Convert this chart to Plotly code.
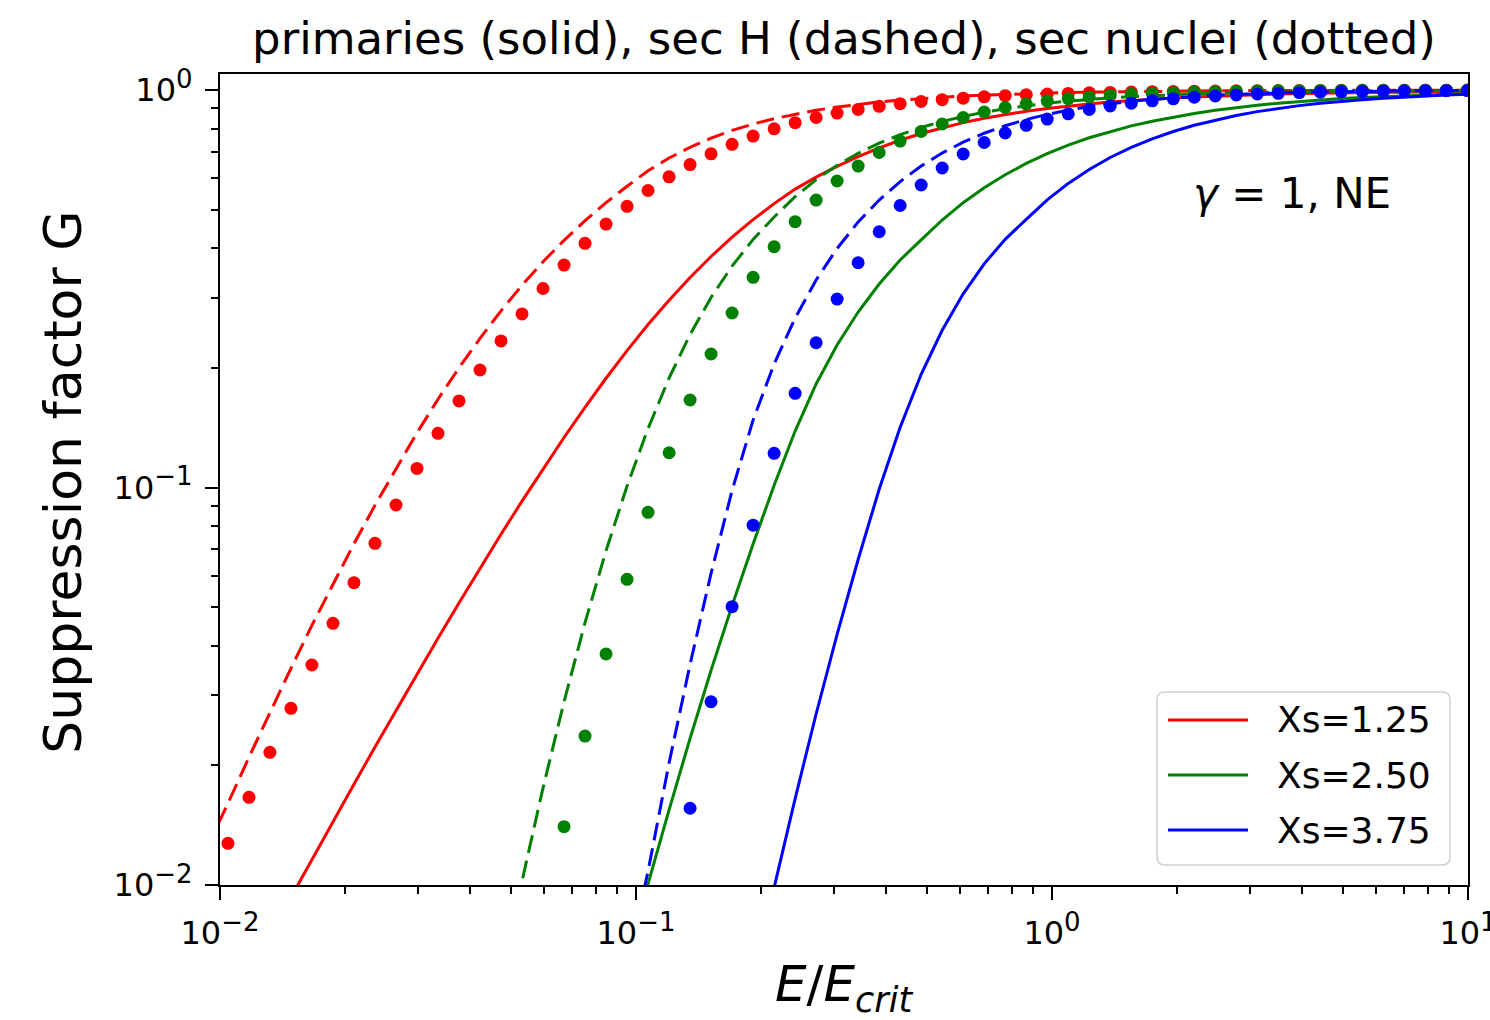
import plotly.graph_objects as go

# Energy grid E/E_crit (log-spaced samples)
E = [0.0093, 0.01045, 0.01174, 0.01318, 0.01481, 0.01663, 0.01869, 0.02099, 0.02358, 0.02649,
     0.02975, 0.03342, 0.03754, 0.04217, 0.04737, 0.05321, 0.05977, 0.06714, 0.07542, 0.08472,
     0.09517, 0.1069, 0.1201, 0.1349, 0.1515, 0.1702, 0.1912, 0.2148, 0.2413, 0.2710,
     0.3044, 0.3420, 0.3842, 0.4315, 0.4847, 0.5445, 0.6116, 0.6871, 0.7718, 0.8670,
     0.9739, 1.094, 1.229, 1.380, 1.551, 1.742, 1.957, 2.198, 2.469, 2.773,
     3.115, 3.499, 3.931, 4.416, 4.960, 5.572, 6.259, 7.031, 7.898, 8.872, 9.966]

xs_values = [1.25, 2.50, 3.75]
colors = ["#ff0000", "#008000", "#0000ff"]

# Xs = 1.25
prim_125 = [None, None, None, None,
            0.00931, 0.01161, 0.01443, 0.01793, 0.02223, 0.02749, 0.03393, 0.04174, 0.05122, 0.06259,
            0.07626, 0.09243, 0.1114, 0.1336, 0.1591, 0.1883, 0.2210, 0.2570, 0.2959, 0.3375,
            0.3813, 0.4263, 0.4720, 0.5179,
            0.5632, 0.6037, 0.6427, 0.6799, 0.7150, 0.7476, 0.7774, 0.8038, 0.8279, 0.8494,
            0.8682, 0.8844, 0.8989, 0.9115, 0.9226, 0.9324, 0.9410, 0.9482, 0.9547, 0.9603,
            0.9653, 0.9698, 0.9737, 0.9770, 0.9799, 0.9822, 0.9845, 0.9868, 0.9885, 0.9896,
            0.9908, 0.9919, 0.9931]
secH_125 = [0.01243,
            0.01605, 0.02096, 0.02720, 0.03509, 0.04499, 0.05723, 0.07217, 0.09020, 0.1117, 0.1373,
            0.1667, 0.2000, 0.2373, 0.2783, 0.3227, 0.3697, 0.4186, 0.4692, 0.5207, 0.5728,
            0.6262, 0.6744, 0.7178, 0.7568, 0.7913, 0.8213, 0.8472, 0.8701, 0.8896, 0.9063,
            0.9205, 0.9328, 0.9432, 0.9520, 0.9592, 0.9659, 0.9709, 0.9754, 0.9794, 0.9828,
            0.9856, 0.9879, 0.9896, 0.9913, 0.9925, 0.9936, 0.9948, 0.9957, 0.9964, 0.9969,
            0.9974, 0.9978, 0.9981, 0.9984, 0.9987, 0.9989, 0.9991, 0.9992, 0.9994, 0.9995]
secN_125 = [None,
            0.01273, 0.01662, 0.02157, 0.02782, 0.03577, 0.04553, 0.05761, 0.07238, 0.09036, 0.1117,
            0.1369, 0.1651, 0.1975, 0.2337, 0.2733, 0.3167, 0.3628, 0.4114, 0.4601, 0.5098,
            0.5587, 0.6047, 0.6491, 0.6911, 0.7302, 0.7660, 0.7987, 0.8275, 0.8528, 0.8748,
            0.8938, 0.9099, 0.9237, 0.9357, 0.9454, 0.9541, 0.9614, 0.9676, 0.9726, 0.9771,
            0.9805, 0.9839, 0.9862, 0.9885, 0.9902, 0.9919, 0.9931, 0.9942, 0.9951, 0.9960,
            0.9966, 0.9971, 0.9976, 0.9980, 0.9983, 0.9986, 0.9988, 0.9990, 0.9991, 0.9993]

# Xs = 2.50
prim_250 = [None] * 20 + [
            0.00637, 0.01006, 0.01545, 0.02339, 0.03466, 0.05045, 0.0721, 0.1013, 0.1387, 0.1822,
            0.2283, 0.2764, 0.3251, 0.3736, 0.4196, 0.4709, 0.5206, 0.5678, 0.6120, 0.6535,
            0.6918, 0.7264, 0.7582, 0.7863, 0.8124, 0.8346, 0.8553, 0.8733, 0.8891, 0.9031,
            0.9158, 0.9264, 0.9356, 0.9443, 0.9514, 0.9574, 0.9630, 0.9681, 0.9721, 0.9759,
            0.9788]
secH_250 = [None] * 14 + [
            0.00577, 0.01022, 0.01755, 0.02891, 0.04571, 0.06934, 0.1009, 0.1407, 0.1886, 0.2426,
            0.3006, 0.3607, 0.4206, 0.4792, 0.5389, 0.5951, 0.6464, 0.6934, 0.7353, 0.7723,
            0.8047, 0.8333, 0.8577, 0.8794, 0.8975, 0.9131, 0.9265, 0.9377, 0.9475, 0.9558,
            0.9625, 0.9687, 0.9737, 0.9777, 0.9811, 0.9839, 0.9868, 0.9891, 0.9908, 0.9919,
            0.9931, 0.9942, 0.9954, 0.9960, 0.9965, 0.9971, 0.9977]
secN_250 = [None] * 17 + [
            0.01402, 0.02370, 0.03813, 0.05875, 0.0866, 0.1223, 0.1660, 0.2167, 0.2748, 0.3379,
            0.4035, 0.4663, 0.5287, 0.5903, 0.6438, 0.6964, 0.7441, 0.7864, 0.8213, 0.8528,
            0.8804, 0.9037, 0.9222, 0.9382, 0.9508, 0.9608, 0.9692, 0.9754, 0.9805, 0.9845,
            0.9879, 0.9902, 0.9925, 0.9939, 0.9952, 0.9962, 0.9970, 0.9976, 0.9981, 0.9985,
            0.9988, 0.9991, 0.9992, 0.9994]

# Xs = 3.75
prim_375 = [None] * 27 + [
            0.00985, 0.01650, 0.02693, 0.04271, 0.0659, 0.0990, 0.1417, 0.1927, 0.2486, 0.3071,
            0.3654, 0.4211, 0.4728, 0.5290, 0.5821, 0.6312, 0.6764, 0.7172, 0.7537, 0.7863,
            0.8156, 0.8404, 0.8627, 0.8824, 0.8989, 0.9136, 0.9258, 0.9367, 0.9458, 0.9537,
            0.9608, 0.9664, 0.9714, 0.9754]
secH_375 = [None] * 20 + [
            0.0062, 0.01084, 0.02027, 0.0359, 0.0608, 0.0983, 0.1478, 0.2045, 0.2669, 0.3327,
            0.3993, 0.4655, 0.5287, 0.5884, 0.6438, 0.6943, 0.7391, 0.7786, 0.8131, 0.8428,
            0.8682, 0.8901, 0.9084, 0.9238, 0.9367, 0.9476, 0.9563, 0.9642, 0.9703, 0.9754,
            0.9799, 0.9833, 0.9862, 0.9885, 0.9908, 0.9925, 0.9936, 0.9948, 0.9957, 0.9965,
            0.9971]
secN_375 = [None] * 23 + [
            0.01560, 0.02891, 0.05013, 0.0804, 0.1219, 0.1726, 0.2313, 0.2979, 0.3677, 0.4400,
            0.5122, 0.5768, 0.6365, 0.6902, 0.7378, 0.7795, 0.8150, 0.8452, 0.8713, 0.8932,
            0.9115, 0.9268, 0.9393, 0.9502, 0.9591, 0.9664, 0.9720, 0.9771, 0.9811, 0.9845,
            0.9873, 0.9896, 0.9913, 0.9931, 0.9942, 0.9954, 0.9960, 0.9965]

series = [
    (prim_125, secH_125, secN_125),
    (prim_250, secH_250, secN_250),
    (prim_375, secH_375, secN_375),
]
for group in series:
    for ys in group:
        assert len(ys) == len(E), len(ys)

FONT = "DejaVu Sans"

fig = go.Figure()
for color, (prim, sech, secn) in zip(colors, series):
    fig.add_trace(go.Scatter(x=E, y=prim, mode="lines",
                             line=dict(color=color, width=3), showlegend=False))
    fig.add_trace(go.Scatter(x=E, y=sech, mode="lines",
                             line=dict(color=color, width=3, dash="18px,8px"), showlegend=False))
    fig.add_trace(go.Scatter(x=E, y=secn, mode="markers",
                             marker=dict(color=color, size=13, line=dict(width=0)),
                             showlegend=False))


def pow10(exp):
    sign = "\u2212" if exp < 0 else ""
    return f"10<sup><span style='font-size:26px'>{sign}{abs(exp)}</span></sup>"


x_major = [0.01, 0.1, 1, 10]
x_major_text = [pow10(e) for e in (-2, -1, 0, 1)]
y_major = [0.01, 0.1, 1]
y_major_text = [pow10(e) for e in (-2, -1, 0)]
x_minor = [m * d for d in (0.01, 0.1, 1) for m in range(2, 10)]
y_minor = [m * d for d in (0.01, 0.1) for m in range(2, 10)]

axis_common = dict(
    type="log", showgrid=False, zeroline=False, automargin=False,
    showline=True, linecolor="black", linewidth=2, mirror=True,
    ticks="outside", ticklen=13, tickwidth=2, tickcolor="black",
    tickfont=dict(family=FONT, size=32, color="black"),
    ticklabelstandoff=6, ticklabeloverflow="allow",
)

fig.update_layout(
    width=1490, height=1020,
    margin=dict(l=220, r=22, t=74, b=135, autoexpand=False),
    paper_bgcolor="white", plot_bgcolor="white",
    font=dict(family=FONT, color="black"),
    title=dict(text="primaries (solid), sec H (dashed), sec nuclei (dotted)",
               x=0.5, xref="paper", xanchor="center",
               y=1 - 38 / 1020, yanchor="middle",
               font=dict(family=FONT, size=45, color="black")),
    xaxis=dict(range=[-2, 1], tickmode="array", tickvals=x_major, ticktext=x_major_text,
               minor=dict(tickmode="array", tickvals=x_minor, ticks="outside", ticklen=7,
                          tickwidth=1.5, tickcolor="black", showgrid=False),
               **axis_common),
    yaxis=dict(range=[-2, 0.0403], tickmode="array", tickvals=y_major, ticktext=y_major_text,
               minor=dict(tickmode="array", tickvals=y_minor, ticks="outside", ticklen=7,
                          tickwidth=1.5, tickcolor="black", showgrid=False),
               **axis_common),
    showlegend=False,
)

# Axis titles
fig.add_annotation(text="<i>E</i>/<i>E</i><sub><i>crit</i></sub>",
                   x=0.5, y=-0.127, xref="paper", yref="paper",
                   xanchor="center", yanchor="middle", showarrow=False,
                   font=dict(family=FONT, size=50, color="black"))
fig.add_annotation(text="Suppression factor G",
                   x=-0.126, y=0.497, xref="paper", yref="paper",
                   xanchor="center", yanchor="middle", textangle=-90, showarrow=False,
                   font=dict(family=FONT, size=52, color="black"))

# Model label
fig.add_annotation(text="<i>\u03b3</i> = 1, NE",
                   x=0.859, y=0.853, xref="paper", yref="paper",
                   xanchor="center", yanchor="middle", showarrow=False,
                   font=dict(family=FONT, size=42, color="black"))

# Legend box with rounded corners
x0, x1, y0, y1 = 0.7508, 0.9856, 0.0247, 0.2380
rx, ry = 0.0064, 0.0099
path = (f"M{x0 + rx},{y0} L{x1 - rx},{y0} Q{x1},{y0} {x1},{y0 + ry} "
        f"L{x1},{y1 - ry} Q{x1},{y1} {x1 - rx},{y1} L{x0 + rx},{y1} "
        f"Q{x0},{y1} {x0},{y1 - ry} L{x0},{y0 + ry} Q{x0},{y0} {x0 + rx},{y0} Z")
fig.add_shape(type="path", path=path, xref="paper", yref="paper",
              fillcolor="rgba(255,255,255,0.8)", line=dict(color="#d0d0d0", width=1.5),
              layer="above")
legend_rows = [0.2035, 0.1356, 0.0678]
for xs, color, yrow in zip(xs_values, colors, legend_rows):
    fig.add_shape(type="line", xref="paper", yref="paper",
                  x0=0.7596, x1=0.8237, y0=yrow, y1=yrow,
                  line=dict(color=color, width=3), layer="above")
    fig.add_annotation(text=f"Xs={xs:.2f}", x=0.8454, y=yrow, xref="paper", yref="paper",
                       xanchor="left", yanchor="middle", showarrow=False,
                       font=dict(family=FONT, size=36, color="black"))

fig.write_html("out.html")
